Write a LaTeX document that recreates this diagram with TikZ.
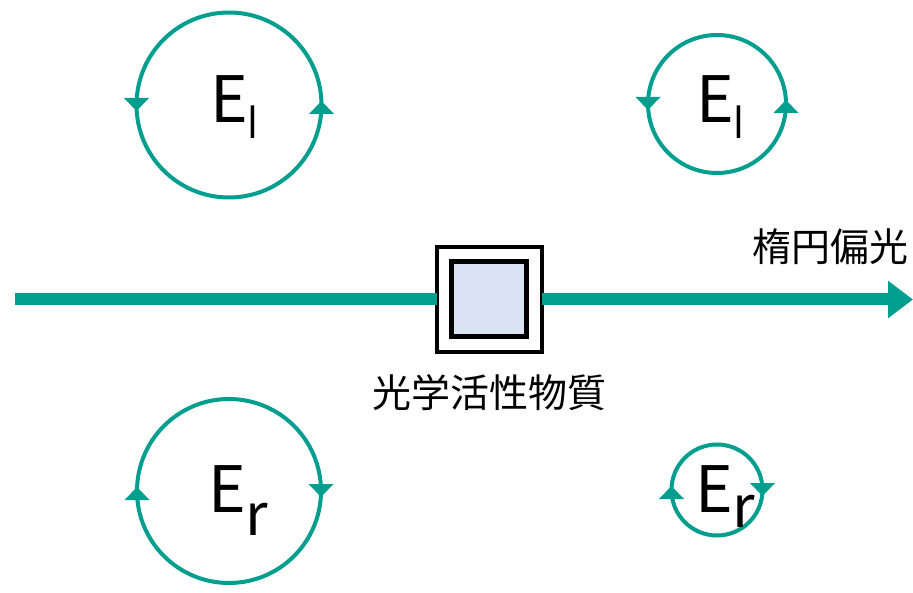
\documentclass[tikz,border=0pt]{standalone}
\usepackage{fontspec}
\setmainfont{Noto Sans CJK JP}
\newfontfamily\subfont{Open Sans}
\usetikzlibrary{arrows.meta}
\definecolor{tl}{RGB}{0,158,142}
\definecolor{boxfill}{RGB}{218,227,243}
\newcommand\mysub[3]{\raisebox{#1pt}{\fontsize{#2}{#2}\selectfont #3}}
\tikzset{
  pol/.style={circle, draw=tl, line width=4pt, inner sep=0pt, outer sep=0pt},
  lab/.style={inner sep=0pt, font=\fontsize{64}{64}\selectfont},
  jp/.style={inner sep=0pt, font=\fontsize{39}{41}\selectfont},
  tridown/.pic={\fill[tl] (-12.5,-7) -- (12.5,-7) -- (0,6) -- cycle;},
  triup/.pic={\fill[tl] (-12.5,9) -- (12.5,9) -- (0,-4) -- cycle;}
}
\begin{document}
\begin{tikzpicture}[x=1pt,y=-1pt]
\useasboundingbox (0,0) rectangle (913,593);
% polarization circles
\node[pol, minimum size=185pt] (c1) at (229,105) {};
\node[pol, minimum size=138pt] (c2) at (717,104) {};
\node[pol, minimum size=184pt] (c3) at (229,491) {};
\node[pol, minimum size=91pt] (c4) at (717,490) {};
\pic at (c1.west) {tridown}; \pic at (c1.east) {triup};
\pic at (c2.west) {tridown}; \pic at (c2.east) {triup};
\pic at (c3.west) {triup};   \pic at (c3.east) {tridown};
\pic at (c4.west) {triup};   \pic at (c4.east) {tridown};
% labels
\node[lab, anchor=base west] (l1) at (210,123) {E\mysub{-16}{43}{\subfont l}};
\node[lab, anchor=base west] (l2) at (696,123) {E\mysub{-16}{43}{\subfont l}};
\node[lab, anchor=base west] (l3) at (208,512) {E\mysub{-23}{58}{r}};
\node[lab, anchor=base west] (l4) at (695,512) {E\mysub{-15}{58}{r}};
% main beam
\coordinate (s) at (15,299.5);
\coordinate (e) at (913,299.5);
\node[draw=black, line width=4pt, fill=white, minimum size=105pt, inner sep=0pt, outer sep=0pt] (box) at (489,299.5) {};
\node[draw=black, line width=5pt, fill=boxfill, minimum size=75pt, inner sep=0pt] (inner) at (box.center) {};
\draw[tl, line width=12pt] (s) -- (box.west);
\draw[tl, line width=12pt, -{Triangle[width=36pt,length=25pt]}] (box.east) -- (e);
\node[jp] (mat) at (489,393) {光学活性物質};
\node[jp] (ell) at (830,247) {楕円偏光};
\end{tikzpicture}
\end{document}
